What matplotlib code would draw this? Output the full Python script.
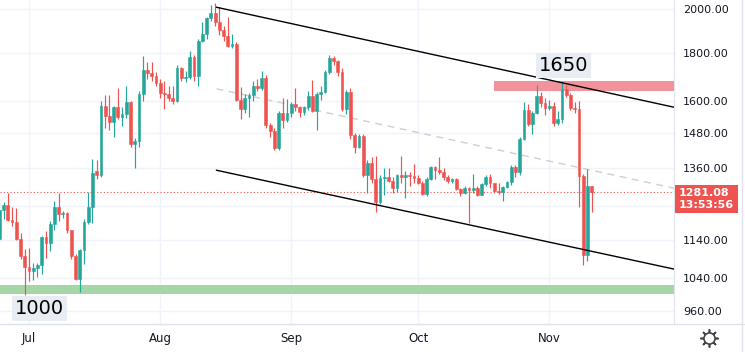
import numpy as np
import pandas as pd
import matplotlib

matplotlib.use("Agg")
import matplotlib.pyplot as plt
import matplotlib.dates as mdates
from matplotlib.lines import Line2D

# daily candles, 24 Jun -> 11 Nov
opens = [
    1143, 1226, 1243, 1199, 1193, 1144, 1098,
    1068, 1059, 1067, 1074, 1150, 1134, 1187, 1237, 1216, 1218,
    1168, 1097, 1038, 1113, 1193, 1235, 1350, 1338, 1580, 1542,
    1522, 1577, 1538, 1549, 1598, 1440, 1450, 1627, 1724, 1713, 1700,
    1672, 1630, 1627, 1612, 1600, 1735, 1692, 1697, 1780, 1700,
    1852, 1882, 1957, 1980, 1937, 1900, 1876, 1830, 1840, 1604,
    1570, 1611, 1622, 1660, 1650, 1694, 1508, 1488, 1426, 1555, 1526,
    1553, 1587, 1577, 1556, 1578, 1618, 1560, 1628, 1634, 1718,
    1775, 1765, 1715, 1570, 1637, 1472, 1432, 1470, 1335, 1377,
    1324, 1252, 1328, 1329, 1316, 1295, 1336, 1329, 1338, 1334,
    1327, 1311, 1276, 1323, 1362, 1352, 1346, 1331, 1317, 1323,
    1292, 1280, 1294, 1288, 1296, 1274, 1306, 1331, 1310, 1287,
    1283, 1299, 1314, 1364, 1345, 1460, 1566, 1514, 1555, 1621, 1593,
    1574, 1580, 1518, 1530, 1646, 1625, 1574, 1568, 1333, 1100, 1300,
]
highs = [
    1248, 1250, 1280, 1235, 1232, 1160, 1117,
    1118, 1078, 1080, 1152, 1166, 1194, 1256, 1280, 1225, 1222,
    1170, 1102, 1117, 1200, 1282, 1390, 1387, 1602, 1625, 1625,
    1580, 1650, 1575, 1660, 1602, 1464, 1640, 1784, 1760, 1760, 1718,
    1690, 1680, 1660, 1660, 1745, 1740, 1720, 1808, 1790, 1860,
    1940, 1965, 2020, 2030, 2010, 1920, 1965, 1885, 1845, 1655,
    1628, 1630, 1680, 1690, 1720, 1705, 1515, 1500, 1560, 1610, 1606,
    1595, 1650, 1580, 1582, 1640, 1685, 1635, 1660, 1725, 1788,
    1785, 1770, 1735, 1645, 1650, 1480, 1478, 1475, 1385, 1395,
    1400, 1336, 1360, 1360, 1330, 1340, 1400, 1350, 1345, 1372,
    1335, 1316, 1330, 1365, 1366, 1395, 1358, 1336, 1328, 1328,
    1295, 1300, 1297, 1340, 1300, 1310, 1335, 1340, 1312, 1310,
    1302, 1318, 1370, 1370, 1465, 1595, 1590, 1560, 1662, 1635, 1610,
    1605, 1595, 1560, 1677, 1665, 1630, 1595, 1600, 1340, 1357, 1302,
]
lows = [
    1138, 1200, 1195, 1180, 1140, 1090, 998,
    1032, 1034, 1042, 1050, 1093, 1112, 1170, 1195, 1205, 1160,
    1090, 1036, 1006, 1076, 1185, 1190, 1322, 1330, 1500, 1490,
    1466, 1530, 1505, 1535, 1430, 1360, 1430, 1600, 1690, 1680, 1660,
    1610, 1570, 1600, 1590, 1595, 1680, 1675, 1690, 1680, 1660,
    1845, 1860, 1945, 1920, 1880, 1850, 1825, 1820, 1600, 1530,
    1555, 1540, 1600, 1640, 1645, 1500, 1466, 1420, 1420, 1500, 1520,
    1540, 1560, 1540, 1545, 1565, 1558, 1490, 1605, 1630, 1710,
    1745, 1700, 1560, 1550, 1460, 1410, 1428, 1330, 1280, 1310,
    1220, 1245, 1274, 1315, 1280, 1282, 1310, 1265, 1300, 1310,
    1306, 1272, 1270, 1320, 1325, 1340, 1320, 1312, 1310, 1290,
    1270, 1275, 1190, 1280, 1270, 1272, 1300, 1295, 1280, 1275,
    1256, 1295, 1305, 1330, 1338, 1455, 1505, 1478, 1550, 1575, 1545,
    1565, 1505, 1510, 1515, 1615, 1565, 1555, 1236, 1074, 1085, 1220,
]
closes = [
    1226, 1243, 1199, 1193, 1144, 1098, 1068,
    1059, 1067, 1074, 1150, 1134, 1187, 1237, 1216, 1218, 1168,
    1097, 1038, 1113, 1193, 1235, 1342, 1338, 1580, 1542, 1522,
    1577, 1538, 1549, 1598, 1440, 1450, 1627, 1724, 1713, 1700, 1672,
    1630, 1627, 1612, 1600, 1735, 1692, 1697, 1780, 1700, 1852,
    1882, 1957, 1980, 1937, 1900, 1876, 1830, 1840, 1604, 1570,
    1611, 1622, 1660, 1650, 1694, 1508, 1488, 1426, 1555, 1526, 1553,
    1587, 1577, 1556, 1578, 1618, 1560, 1628, 1634, 1718, 1775,
    1765, 1715, 1570, 1637, 1472, 1432, 1470, 1335, 1377, 1324,
    1252, 1328, 1329, 1316, 1295, 1336, 1329, 1338, 1334, 1327,
    1311, 1276, 1323, 1362, 1352, 1346, 1331, 1317, 1323, 1292,
    1280, 1294, 1288, 1296, 1274, 1306, 1331, 1310, 1287, 1283,
    1299, 1314, 1364, 1345, 1460, 1566, 1514, 1555, 1621, 1593, 1574,
    1580, 1518, 1530, 1646, 1625, 1574, 1568, 1333, 1100, 1300, 1281.08,
]
start_date = "2022-06-24"

price_ticks = [960, 1040, 1140, 1240, 1360, 1480, 1600, 1800, 2000]
month_ticks = ["2022-07-01", "2022-08-01", "2022-09-01", "2022-10-01", "2022-11-01"]
month_labels = ["Jul", "Aug", "Sep", "Oct", "Nov"]

# drawn channel (two anchor points each) and zones
channel_dates = ["2022-08-14 08:00", "2022-11-30 12:00"]
channel_upper = [2010, 1576]
channel_lower = [1352, 1063]
resistance_zone = (1638, 1679)
resistance_start = "2022-10-19"
support_zone = (1000, 1022)
labels = [("1650", "2022-11-04 10:00", 1745), ("1000", "2022-07-03 14:00", 966)]
countdown = "13:53:56"

GREEN = "#26a69a"
RED = "#ef5350"
GRID = "#f0f3fa"
BORDER = "#e0e3eb"
TEXT = "#131722"


def draw_candles(ax, x, o, h, l, c):
    colors = np.where(c >= o, GREEN, RED)
    ax.vlines(x, l, h, colors=colors, lw=0.85, zorder=3)
    ax.bar(x, np.abs(c - o), bottom=np.minimum(o, c), width=0.66,
           color=colors, edgecolor=colors, linewidth=0.4, zorder=4)


def main():
    o = np.array(opens, dtype=float)
    h = np.array(highs, dtype=float)
    l = np.array(lows, dtype=float)
    c = np.array(closes, dtype=float)
    dates = pd.date_range(start_date, periods=len(c), freq="D")
    x = mdates.date2num(dates)

    fig = plt.figure(figsize=(7.45, 3.52), dpi=100)
    ax = fig.add_axes([0, 28 / 352, 674 / 745, 324 / 352])
    ax.set_yscale("log")

    jul1 = mdates.date2num(pd.Timestamp("2022-07-01"))
    px_day = 4.23
    x_left, x_right = jul1 - 29 / px_day, jul1 + 645 / px_day
    ax.set_xlim(x_left, x_right)
    ax.set_ylim(930.1, 2045.8)

    # zones
    ax.fill_between([x_left, x_right], *support_zone, color="#a5d6a7", lw=0, zorder=1)
    rs = mdates.date2num(pd.Timestamp(resistance_start))
    ax.fill_between([rs, x_right], *resistance_zone, color="#f2939c", lw=0, zorder=1)

    # channel
    cx = mdates.date2num(pd.to_datetime(channel_dates))
    mid = np.sqrt(np.array(channel_upper) * np.array(channel_lower))
    ax.plot(cx, channel_upper, color="black", lw=1.0, zorder=5)
    ax.plot(cx, channel_lower, color="black", lw=1.0, zorder=5)
    ax.plot(cx, mid, color="#cfcfcf", lw=1.0, ls=(0, (5, 4)), zorder=2)

    draw_candles(ax, x, o, h, l, c)

    ax.axhline(c[-1], color=RED, lw=0.8, ls=(0, (1, 2)), zorder=2)

    for txt, d, p in labels:
        ax.text(mdates.date2num(pd.Timestamp(d)), p, txt, fontsize=14, color="black",
                ha="center", va="center", zorder=6,
                bbox=dict(boxstyle="square,pad=0.15", fc="#e8edf4", ec="none"))

    # axes styling
    ax.yaxis.tick_right()
    ax.yaxis.set_major_locator(matplotlib.ticker.FixedLocator(price_ticks))
    ax.yaxis.set_minor_locator(matplotlib.ticker.NullLocator())
    ax.set_yticklabels(["" if t == 1240 else f"{t:.2f}" for t in price_ticks])
    ax.tick_params(axis="y", length=0, pad=6.5, labelsize=8, labelcolor=TEXT)

    ax.set_xticks(mdates.date2num(pd.to_datetime(month_ticks)))
    ax.set_xticklabels(month_labels)
    ax.xaxis.set_minor_locator(matplotlib.ticker.NullLocator())
    ax.tick_params(axis="x", length=0, pad=6, labelsize=8.5, labelcolor=TEXT)

    ax.grid(True, color=GRID, lw=1)
    ax.set_axisbelow(True)
    for side in ["top", "left"]:
        ax.spines[side].set_visible(False)
    ax.spines["right"].set_color(BORDER)
    ax.spines["bottom"].set_color(BORDER)

    # last price tag
    ax.annotate(f"{c[-1]:.2f}\n{countdown}", xy=(1, c[-1]),
                xycoords=ax.get_yaxis_transform(), xytext=(5, 4),
                textcoords="offset pixels", ha="left", va="top",
                fontsize=8, fontweight="bold", color="white", linespacing=1.15,
                annotation_clip=False, zorder=10,
                bbox=dict(boxstyle="square,pad=0.35", fc=RED, ec="none"))

    fig.add_artist(Line2D([0, 1], [28 / 352, 28 / 352], transform=fig.transFigure,
                          color=BORDER, lw=1))
    fig.add_artist(Line2D([742 / 745, 742 / 745], [0, 1], transform=fig.transFigure,
                          color=BORDER, lw=1))

    # settings gear
    gx, gy = 709 / 745, 14 / 352
    fig.add_artist(Line2D([gx], [gy], transform=fig.transFigure, marker=(8, 2, 0),
                          ms=13, color="#444444", mew=1.2))
    fig.add_artist(Line2D([gx], [gy], transform=fig.transFigure, marker="o",
                          ms=8, mfc="white", mec="#444444", mew=1.2))

    fig.savefig("out.png", dpi=100)


if __name__ == "__main__":
    main()
